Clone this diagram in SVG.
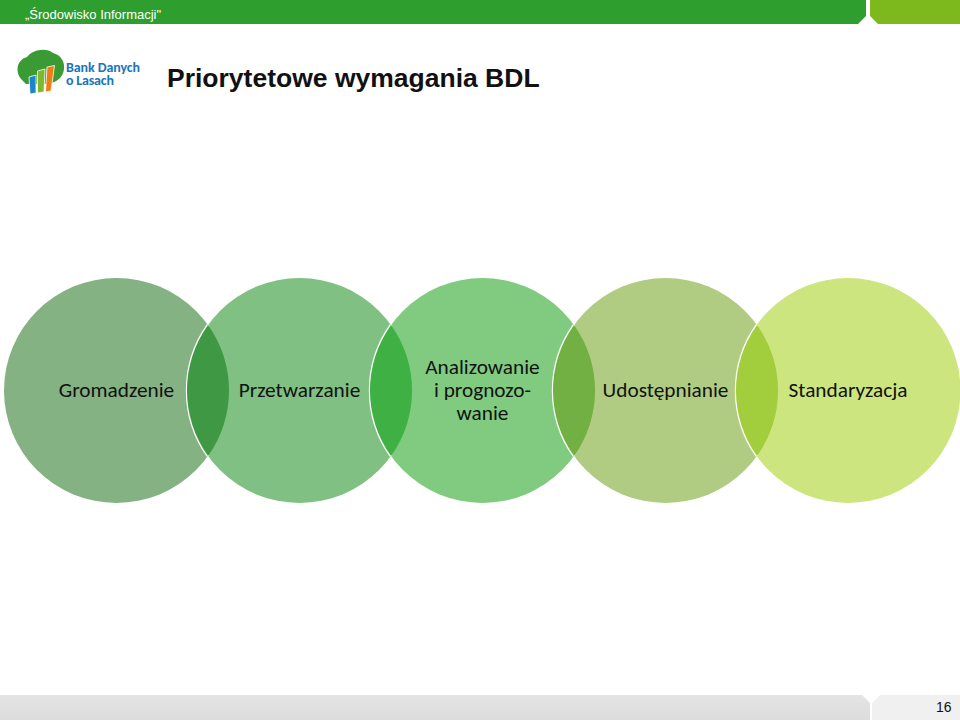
<svg xmlns="http://www.w3.org/2000/svg" width="960" height="720" viewBox="0 0 960 720">
<defs>
<style>
.l{font-family:"Liberation Sans",Arial,sans-serif}
.b{font-family:Carlito,"Open Sans","Noto Sans",sans-serif;font-weight:bold;font-size:14px;fill:#1a75bb}
.c{font-family:Carlito,"Open Sans","Noto Sans",sans-serif;font-size:21.3px;fill:#111;text-anchor:middle}
.w{fill:none;stroke:#fff;stroke-width:3}
.p{stroke:#fff;stroke-width:.8}
</style>
<linearGradient id="gf" x1="0" x2="0" y1="0" y2="1"><stop offset="0" stop-color="#e4e4e4"/><stop offset="1" stop-color="#dcdcdc"/></linearGradient>
</defs>
<rect width="960" height="720" fill="#fff"/>
<g id="header">
<path d="M0 0H866V16L858 24H0Z" fill="#2e9e2e"/>
<path d="M870 0H960V24H878L870 16Z" fill="#7db81c"/>
<text class="l" x="25" y="18.500" font-size="13" fill="#fff">„Środowisko Informacji"</text>
</g>
<g id="logo">
<path d="M22 80C15 73 16 60 27 57C32 50 46 47 53 53C61 55 65 62 64 69C63 78 56 83 46 84L26 84Z" fill="#3a9b35"/>
<path class="p" d="M29 77L36 75L36 93L30 94Z" fill="#1b85c9"/>
<path class="p" d="M37.500 71L45 69L44 92L37.500 93Z" fill="#7cb92c"/>
<path class="p" d="M47 67L54.500 65.500L51 91L45.500 92Z" fill="#ef7d14"/>
<text class="b" x="66" y="72" textLength="74">Bank Danych</text>
<text class="b" x="66" y="84.500" textLength="48">o Lasach</text>
</g>
<text id="title" class="l" x="167" y="87" font-size="26.500" font-weight="bold" fill="#111">Priorytetowe wymagania BDL</text>
<g id="n1"><circle cx="116.500" cy="390.500" r="112.500" fill="#84b283"/><text class="c" x="116.500" y="397">Gromadzenie</text></g>
<g id="n2"><circle cx="299.500" cy="390.500" r="112.500" fill="#80c083"/><text class="c" x="299.500" y="397">Przetwarzanie</text></g>
<g id="n3"><circle cx="482.500" cy="390.500" r="112.500" fill="#80cb7f"/><text class="c" x="482.500" y="374">Analizowanie</text><text class="c" x="482.500" y="397">i prognozo-</text><text class="c" x="482.500" y="420">wanie</text></g>
<g id="n4"><circle cx="665.500" cy="390.500" r="112.500" fill="#b0cc82"/><text class="c" x="665.500" y="397">Udostępnianie</text></g>
<g id="n5"><circle cx="848" cy="390.500" r="112.500" fill="#cce57e"/><text class="c" x="848" y="397">Standaryzacja</text></g>
<g id="connectors">
<path class="w" d="M208 325A114 114 0 0 0 208 456"/><path d="M208 325A112.500 112.500 0 0 1 208 456A112.500 112.500 0 0 1 208 325Z" fill="#3f9843"/>
<path class="w" d="M391 325A114 114 0 0 0 391 456"/><path d="M391 325A112.500 112.500 0 0 1 391 456A112.500 112.500 0 0 1 391 325Z" fill="#3eb044"/>
<path class="w" d="M574 325A114 114 0 0 0 574 456"/><path d="M574 325A112.500 112.500 0 0 1 574 456A112.500 112.500 0 0 1 574 325Z" fill="#72b043"/>
<path class="w" d="M757 325A114 114 0 0 0 757 456"/><path d="M757 325A112.500 112.500 0 0 1 757 456A112.500 112.500 0 0 1 757 325Z" fill="#a2cd3c"/>
</g>
<g id="footer">
<path d="M0 695H862L870 703V720H0Z" fill="url(#gf)"/>
<path d="M872 703L880 695H960V720H872Z" fill="#f0f0f0"/>
<text class="l" x="936" y="712" font-size="14" fill="#111">16</text>
</g>
</svg>
